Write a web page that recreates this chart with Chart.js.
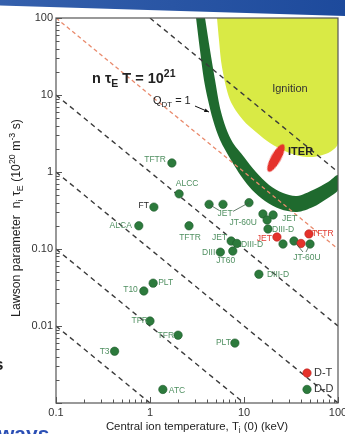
<!DOCTYPE html>
<html><head><meta charset="utf-8">
<script src="https://cdn.jsdelivr.net/npm/chart.js@4.4.0/dist/chart.umd.min.js"></script>
<style>
html,body{margin:0;padding:0;background:#fff;overflow:hidden;width:345px;height:434px;}
#wrap{position:relative;width:345px;height:434px;overflow:hidden;}
canvas{position:absolute;left:0;top:0;}
#bar{position:absolute;left:0;top:0;width:345px;height:16px;background:linear-gradient(90deg,#3560ac,#1d4a9c);clip-path:polygon(0 0,100% 0,100% 100%,0 35%);}
.frag{position:absolute;font-family:"Liberation Sans",Arial,sans-serif;font-weight:bold;line-height:1;}
</style></head>
<body><div id="wrap"><canvas id="c" width="345" height="434"></canvas><div id="bar"></div>
<div class="frag" style="left:-6px;top:356px;font-size:17px;color:#222;">s</div>
<div class="frag" style="left:-2px;top:423px;font-size:21px;color:#2b4fb5;">ways</div>
</div>
<script>
// ---------------- data ----------------
const xTickValues = [0.1, 1, 10, 100];
const xTickLabels = ['0.1', '1', '10', '100'];
const yTickValues = [0.001, 0.01, 0.1, 1, 10, 100];
const yTickLabels = ['', '0.01', '0.10', '1', '10', '100'];

// central ion temperature (keV)
const temperature = [1.71, 2.04, 1.10, 0.76, 2.60, 4.25, 5.98, 11.3, 15.9, 20.4, 17.6, 18.0, 22.4, 26.0, 34.0, 40.4,
  50.4, 49.1, 7.3, 8.4, 5.6, 7.6, 14.4, 1.08, 0.86, 1.0, 1.99, 8.0, 0.42, 1.37, 46.8, 46.8];
// Lawson parameter (1e20 m^-3 s)
const lawson = [1.31, 0.52, 0.35, 0.20, 0.20, 0.38, 0.38, 0.40, 0.285, 0.277, 0.238, 0.182, 0.143, 0.116, 0.127, 0.118,
  0.116, 0.157, 0.127, 0.118, 0.091, 0.094, 0.047, 0.036, 0.0285, 0.0116, 0.0076, 0.0060, 0.0047, 0.0015, 0.00245, 0.0015];
const fuel = ['DD','DD','DD','DD','DD','DD','DD','DD','DD','DD','DD','DD','DT','DD','DD','DT',
  'DD','DT','DD','DD','DD','DD','DD','DD','DD','DD','DD','DD','DD','DD','DT','DD'];
const machine = ['TFTR','ALCC','FT','ALCA','TFTR','','','','JT-60U','JET','','DIII-D','JET','','','',
  '','TFTR','JET','DIII-D','DIII','JT60','DIII-D','PLT','T10','TFR','TFR','PLT','T3','ATC','D-T','D-D'];
const groupNames = ['JET', 'JT-60U'];
const groupMembers = [[5, 6, 7], [14, 16]];

// lines of constant n tau T (endpoints, keV / 1e20 m^-3 s)
const tripleBlackT = [[0.1, 1], [0.1, 10], [0.1, 100], [0.1, 100], [1, 100]];
const tripleBlackN = [[0.01, 0.001], [0.1, 0.001], [1, 0.001], [10, 0.01], [100, 1]];
const tripleRedT = [0.1, 100];
const tripleRedN = [100, 0.1];

// Q_DT = 1 band (outer edge, then inner edge)
const ringOuterT = [3.09, 3.40, 3.75, 4.14, 4.68, 5.56, 7.27, 9.29, 12.2, 16.7, 24.2, 36.6, 54.2, 78.3, 100];
const ringOuterN = [100, 38.4, 15.7, 8.61, 4.74, 2.60, 1.43, 0.887, 0.584, 0.42, 0.331, 0.302, 0.351, 0.46, 0.584];
const ringInnerT = [100, 78.3, 54.2, 36.6, 26.0, 18.5, 13.4, 10.0, 7.64, 6.43, 5.56, 4.92, 4.35, 3.85];
const ringInnerN = [0.914, 0.742, 0.584, 0.488, 0.534, 0.678, 1.0, 1.57, 2.38, 3.73, 6.78, 15.7, 38.4, 100];

// ignition region boundary
const ignitionT = [5.16, 5.42, 5.83, 7.10, 9.76, 13.8, 18.9, 28.7, 39.4, 54.2, 82.2, 100, 100];
const ignitionN = [100, 51.8, 23.1, 8.61, 4.74, 3.21, 2.38, 1.82, 1.61, 1.57, 1.82, 2.38, 100];

const iterT = [21.9];
const iterN = [1.52];

// annotation anchors (data coordinates)
const annotationText = ['formula', 'qdt', 'Ignition', 'ITER'];
const annotationT = [0.2415, 1.076, 30.8, 29.4];
const annotationN = [14.3, 7.64, 10.9, 1.66];
const qArrowT = [3.01, 4.24];
const qArrowN = [7.19, 6.01];

// ---------------- styles ----------------
const FONT = '"Liberation Sans", Arial, sans-serif';
const GREEN = '#2c7a3c', RED = '#e5322b', RING = '#1f6a2e', YELLOW = '#d9ea45';
const labelPlacement = [[-6,-3,'right'],[8,-10,'center'],[-5,-1,'right'],[-7,0,'right'],[1,12,'center'],null,null,null,
  [-6,9,'right'],[9,4,'left'],null,[4,1,'left'],[-5,2,'right'],null,null,null,
  null,[3,0,'left'],[-4,-3,'right'],[4,1,'left'],[-5,1,'right'],[-7,10,'center'],[8,0,'left'],[5,-1,'left'],
  [-6,-1,'right'],[-2,0,'right'],[-4,0,'right'],[-4,0,'right'],[-5,0,'right'],[6,1,'left'],[7,0,'left'],[7,0,'left']];
const labelTone = machine.map((m, i) => i === 2 ? 'k' : (i >= 30 ? 'big' : (fuel[i] === 'DT' ? 'r' : 'g')));
const groupPlacement = [{dx: 16, dy: 9, leaders: [[5, -6, -3], [7, 8, -2]]},
                        {dx: 13, dy: 17, leaders: [[14, -4, -6], [16, -1, -6]]}];

const toXY = (ts, ns) => ts.map((t, i) => ({x: t, y: ns[i]}));

// ITER ellipse glyph
const iterGlyph = document.createElement('canvas');
iterGlyph.width = 11; iterGlyph.height = 32;
{ const g = iterGlyph.getContext('2d'); g.fillStyle = RED; g.beginPath(); g.ellipse(5.5, 16, 5, 15.5, 0, 0, Math.PI * 2); g.fill(); }

function minorTicks(lo, hi) {
  const out = [];
  for (let e = Math.round(Math.log10(lo)); e <= Math.round(Math.log10(hi)); e++) {
    for (let m = 1; m <= 9; m++) { const v = Number((m * Math.pow(10, e)).toPrecision(6)); if (v >= lo && v <= hi) out.push(v); }
  }
  return out;
}
const isDecade = v => Math.abs(Math.log10(v) - Math.round(Math.log10(v))) < 1e-6;

function drawRich(ctx, parts, x, y, size, align, weight, color) {
  const segs = parts.map(([t, mode]) => {
    const s = mode ? size * 0.72 : size;
    ctx.font = `${weight} ${s}px ${FONT}`;
    return {t, s, mode, w: ctx.measureText(t).width};
  });
  const total = segs.reduce((a, s) => a + s.w, 0);
  let cx = align === 'center' ? x - total / 2 : align === 'right' ? x - total : x;
  ctx.fillStyle = color; ctx.textAlign = 'left'; ctx.textBaseline = 'alphabetic';
  for (const s of segs) {
    ctx.font = `${weight} ${s.s}px ${FONT}`;
    const off = s.mode === 'sub' ? size * 0.28 : s.mode === 'sup' ? -size * 0.42 : 0;
    ctx.fillText(s.t, cx, y + off);
    cx += s.w;
  }
}

const decorations = {
  id: 'decorations',
  afterDatasetsDraw(chart) {
    const {ctx, chartArea: a, scales: {x, y}} = chart;
    ctx.save();
    // frame & inner ticks
    ctx.strokeStyle = '#555'; ctx.lineWidth = 1.2;
    ctx.strokeRect(a.left, a.top, a.right - a.left, a.bottom - a.top);
    ctx.lineWidth = 1; ctx.beginPath();
    for (const t of x.ticks) { const p = Math.round(x.getPixelForValue(t.value)) + 0.5; const L = isDecade(t.value) ? 6 : 3.5; ctx.moveTo(p, a.bottom); ctx.lineTo(p, a.bottom - L); }
    for (const t of y.ticks) { const p = Math.round(y.getPixelForValue(t.value)) + 0.5; const L = isDecade(t.value) ? 6 : 3.5; ctx.moveTo(a.left, p); ctx.lineTo(a.left + L, p); }
    ctx.stroke();

    // point labels
    ctx.textBaseline = 'middle';
    machine.forEach((m, i) => {
      if (!m || !labelPlacement[i]) return;
      const [dx, dy, align] = labelPlacement[i];
      const tone = labelTone[i];
      ctx.font = (tone === 'big' ? '11px ' : '8.5px ') + FONT;
      ctx.fillStyle = tone === 'g' ? '#4f8f60' : tone === 'r' ? '#e0392f' : tone === 'k' ? '#222' : '#333';
      ctx.textAlign = align;
      ctx.fillText(m, x.getPixelForValue(temperature[i]) + dx, y.getPixelForValue(lawson[i]) + dy);
    });
    // grouped labels with leader lines
    groupNames.forEach((name, gi) => {
      const pl = groupPlacement[gi];
      const first = groupMembers[gi][0];
      const lx = x.getPixelForValue(temperature[first]) + pl.dx, ly = y.getPixelForValue(lawson[first]) + pl.dy;
      ctx.font = '8.5px ' + FONT; ctx.fillStyle = '#4f8f60'; ctx.textAlign = 'center';
      ctx.fillText(name, lx, ly);
      ctx.strokeStyle = '#3d5a45'; ctx.lineWidth = 0.8; ctx.beginPath();
      for (const [idx, sx, sy] of pl.leaders) {
        ctx.moveTo(lx + sx, ly + sy);
        ctx.lineTo(x.getPixelForValue(temperature[idx]), y.getPixelForValue(lawson[idx]));
      }
      ctx.stroke();
    });

    // annotations
    const ax = i => x.getPixelForValue(annotationT[i]), ay = i => y.getPixelForValue(annotationN[i]);
    drawRich(ctx, [['n ', ''], ['τ', ''], ['E', 'sub'], [' T = 10', ''], ['21', 'sup']], ax(0), ay(0), 14.5, 'left', 'bold', '#222');
    drawRich(ctx, [['Q', ''], ['DT', 'sub'], [' = 1', '']], ax(1), ay(1), 11, 'left', 'normal', '#222');
    drawRich(ctx, [['Ignition', '']], ax(2), ay(2), 11, 'center', 'normal', '#333');
    drawRich(ctx, [['ITER', '']], ax(3), ay(3), 11, 'left', 'bold', '#222');
    // Q arrow
    const x0 = x.getPixelForValue(qArrowT[0]), y0 = y.getPixelForValue(qArrowN[0]);
    const x1 = x.getPixelForValue(qArrowT[1]), y1 = y.getPixelForValue(qArrowN[1]);
    ctx.strokeStyle = '#111'; ctx.fillStyle = '#111'; ctx.lineWidth = 1;
    ctx.beginPath(); ctx.moveTo(x0, y0); ctx.lineTo(x1, y1); ctx.stroke();
    const ang = Math.atan2(y1 - y0, x1 - x0);
    ctx.beginPath(); ctx.moveTo(x1, y1);
    ctx.lineTo(x1 - 5 * Math.cos(ang - 0.4), y1 - 5 * Math.sin(ang - 0.4));
    ctx.lineTo(x1 - 5 * Math.cos(ang + 0.4), y1 - 5 * Math.sin(ang + 0.4));
    ctx.closePath(); ctx.fill();

    // axis titles
    drawRich(ctx, [['Central ion temperature, T', ''], ['i', 'sub'], [' (0) (keV)', '']], (a.left + a.right) / 2, 430, 11.4, 'center', 'normal', '#222');
    ctx.translate(20, 218); ctx.rotate(-Math.PI / 2);
    drawRich(ctx, [['Lawson parameter  n', ''], ['i', 'sub'], [' τ', ''], ['E', 'sub'], [' (10', ''], ['20', 'sup'], [' m', ''], ['-3', 'sup'], [' s)', '']], 0, 0, 12.3, 'center', 'normal', '#222');
    ctx.restore();
  }
};

const lineDatasets = tripleBlackT.map((ts, i) => ({
  data: toXY(ts, tripleBlackN[i]), showLine: true, pointRadius: 0, borderColor: '#3a3a3a',
  borderWidth: 1.4, borderDash: [5, 4], fill: false, order: 5
}));

new Chart(document.getElementById('c'), {
  type: 'scatter',
  data: {
    datasets: [
      { data: toXY(temperature, lawson), pointRadius: 4.2, pointBorderWidth: 0.6,
        backgroundColor: fuel.map(f => f === 'DT' ? RED : GREEN),
        borderColor: fuel.map(f => f === 'DT' ? '#b72520' : '#1f5a2c'), order: 1 },
      { data: toXY(iterT, iterN), pointStyle: iterGlyph, pointRotation: 29, pointRadius: 6, order: 2 },
      ...lineDatasets,
      { data: toXY(tripleRedT, tripleRedN), showLine: true, pointRadius: 0, borderColor: '#e98a6c',
        borderWidth: 1.3, borderDash: [4, 3], fill: false, order: 4 },
      { data: toXY(ringOuterT.concat(ringInnerT), ringOuterN.concat(ringInnerN)), showLine: true, pointRadius: 0,
        borderWidth: 0, backgroundColor: RING, fill: 'shape', tension: 0.3, order: 8 },
      { data: toXY(ignitionT, ignitionN), showLine: true, pointRadius: 0,
        borderWidth: 0, backgroundColor: YELLOW, fill: 'shape', tension: 0.3, order: 9 }
    ]
  },
  options: {
    responsive: false, animation: false, events: [],
    layout: { padding: { top: 18, right: 7, left: 0, bottom: 0 } },
    plugins: { legend: { display: false }, tooltip: { enabled: false } },
    scales: {
      x: {
        type: 'logarithmic', min: 0.1, max: 100,
        grid: { display: false, drawTicks: false }, border: { display: false },
        afterBuildTicks: s => { s.ticks = minorTicks(0.1, 100).map(v => ({value: v})); },
        afterFit: s => { s.height = 31; s.paddingLeft = 0; s.paddingRight = 0; },
        ticks: { autoSkip: false, maxRotation: 0, padding: 3, color: '#333', font: { size: 11, family: FONT },
          callback: v => { const k = xTickValues.findIndex(t => Math.abs(t - v) / t < 1e-6); return k >= 0 ? xTickLabels[k] : ''; } }
      },
      y: {
        type: 'logarithmic', min: 0.001, max: 100,
        grid: { display: false, drawTicks: false }, border: { display: false },
        afterBuildTicks: s => { s.ticks = minorTicks(0.001, 100).map(v => ({value: v})); },
        afterFit: s => { s.width = 56; s.paddingTop = 0; s.paddingBottom = 0; },
        ticks: { autoSkip: false, padding: 3, color: '#333', font: { size: 11, family: FONT },
          callback: v => { const k = yTickValues.findIndex(t => Math.abs(t - v) / t < 1e-6); return k >= 0 ? yTickLabels[k] : ''; } }
      }
    }
  },
  plugins: [decorations]
});
</script>
</body></html>
